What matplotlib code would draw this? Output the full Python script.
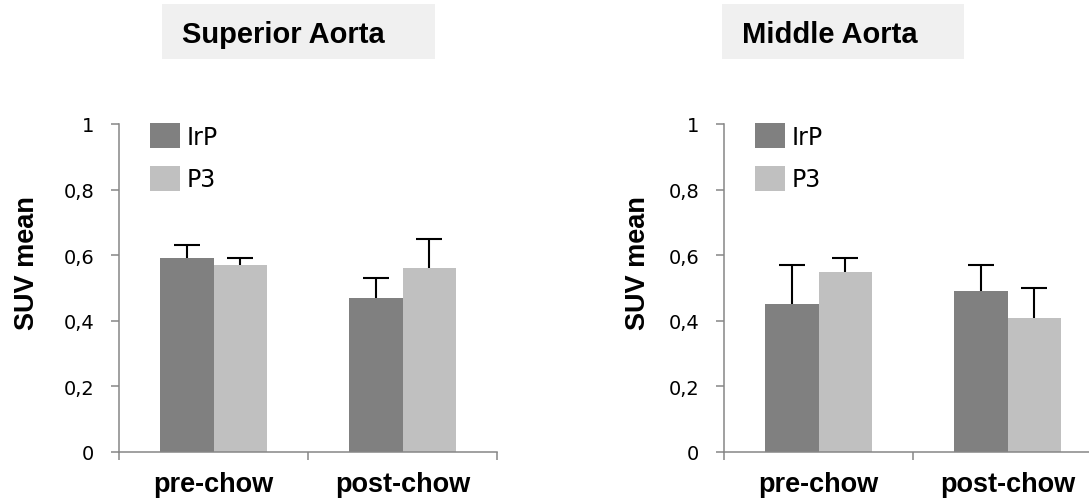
import matplotlib
matplotlib.use('Agg')
import matplotlib.pyplot as plt
import numpy as np
from matplotlib.patches import Rectangle

# ---------------- data ----------------
categories = ['pre-chow', 'post-chow']
series_names = ['IrP', 'P3']
yticks = [0, 0.2, 0.4, 0.6, 0.8, 1.0]
ytick_labels = ['0', '0,2', '0,4', '0,6', '0,8', '1']
titles = ['Superior Aorta', 'Middle Aorta']
ylabel = 'SUV mean'

sup_irp = [0.59, 0.47]
sup_irp_err = [0.04, 0.06]
sup_p3 = [0.57, 0.56]
sup_p3_err = [0.02, 0.09]

mid_irp = [0.45, 0.49]
mid_irp_err = [0.12, 0.08]
mid_p3 = [0.55, 0.41]
mid_p3_err = [0.04, 0.09]

colors = ['#808080', '#c0c0c0']
spine_color = '#868686'

W, H = 1089, 502
fig = plt.figure(figsize=(W / 100, H / 100), dpi=100)
fig.patch.set_facecolor('white')


def fx(px):
    return px / W


def fy(py):
    return 1 - py / H


panels = [
    dict(x0=119, title=titles[0], box=(162, 5, 435, 60), tx=182,
         vals=[sup_irp, sup_p3], errs=[sup_irp_err, sup_p3_err], ylab_x=27),
    dict(x0=724, title=titles[1], box=(722, 5, 964, 60), tx=742,
         vals=[mid_irp, mid_p3], errs=[mid_irp_err, mid_p3_err], ylab_x=638),
]

ax_w, ax_top, ax_bot = 378, 125, 453
bar_w = 0.2857
x = np.arange(len(categories))

for p in panels:
    # title box
    bx0, by0, bx1, by1 = p['box']
    fig.patches.append(Rectangle((fx(bx0), fy(by1)), fx(bx1 - bx0), (by1 - by0) / H,
                                 transform=fig.transFigure, facecolor='#f0f0f0',
                                 edgecolor='none', zorder=0))
    fig.text(fx(p['tx']), fy(43), p['title'], family='Liberation Sans',
             weight='bold', fontsize=21, ha='left', va='baseline')

    ax = fig.add_axes([fx(p['x0']), fy(ax_bot), fx(ax_w), (ax_bot - ax_top) / H])
    offsets = [-bar_w / 2, bar_w / 2]
    for vals, errs, off, col, name in zip(p['vals'], p['errs'], offsets, colors, series_names):
        ax.bar(x + off, vals, width=bar_w, color=col, label=name, zorder=2)
        eb = ax.errorbar(x + off, vals, yerr=[np.zeros(len(vals)), errs], fmt='none',
                         ecolor='black', elinewidth=1.5, capsize=9.4, capthick=1.5, zorder=3)
        eb[1][0].set_visible(False)

    ax.set_xlim(-0.5, 1.5)
    ax.set_ylim(0, 1)
    for s in ['top', 'right']:
        ax.spines[s].set_visible(False)
    for s in ['left', 'bottom']:
        ax.spines[s].set_color(spine_color)
        ax.spines[s].set_linewidth(1.1)
        ax.spines[s].set_zorder(4)

    ax.set_yticks(yticks)
    ax.set_yticklabels(ytick_labels, family='DejaVu Sans', fontsize=14)
    ax.tick_params(axis='y', direction='out', length=5.8, width=1.1, color=spine_color, pad=12)

    ax.set_xticks(x)
    ax.set_xticklabels(categories, family='Liberation Sans', weight='bold', fontsize=19.5)
    ax.set_xticks([-0.5, 0.5, 1.5], minor=True)
    ax.tick_params(axis='x', which='major', length=0, pad=14)
    ax.tick_params(axis='x', which='minor', direction='out', length=5.8, width=1.1, color=spine_color)

    ax.set_ylabel(ylabel, family='Liberation Sans', weight='bold', fontsize=19.5, va='center')
    ax.yaxis.set_label_coords(fx(p['ylab_x']), fy(263.5), transform=fig.transFigure)

    ax.legend(loc='upper left', bbox_to_anchor=(fx(p['x0'] + 31), fy(124)),
              bbox_transform=fig.transFigure, borderpad=0, borderaxespad=0,
              frameon=False, handlelength=1.27, handleheight=1.27,
              handletextpad=0.3, labelspacing=0.72,
              prop={'family': 'DejaVu Sans', 'size': 17})

fig.savefig('out.png', dpi=100)
